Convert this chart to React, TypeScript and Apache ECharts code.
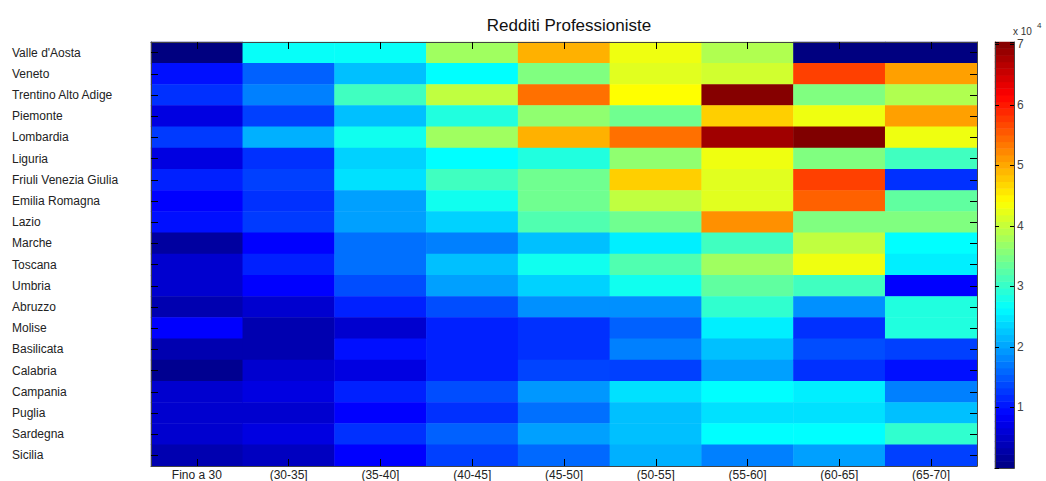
import { useEffect, useRef } from 'react';
import * as echarts from 'echarts';

// Regions, top to bottom
const regions = [
  "Valle d'Aosta", 'Veneto', 'Trentino Alto Adige', 'Piemonte', 'Lombardia',
  'Liguria', 'Friuli Venezia Giulia', 'Emilia Romagna', 'Lazio', 'Marche',
  'Toscana', 'Umbria', 'Abruzzo', 'Molise', 'Basilicata',
  'Calabria', 'Campania', 'Puglia', 'Sardegna', 'Sicilia',
];

// Age bands, left to right
const ageBands = [
  'Fino a 30', '(30-35]', '(35-40]', '(40-45]', '(45-50]',
  '(50-55]', '(55-60]', '(60-65]', '(65-70]',
];

// Average income (EUR) per age band, one value per region in the order above
const upTo30 = [0, 9850, 12100, 6700, 12800, 6700, 11000, 8800, 9850, 2200, 5500, 5500, 3300, 8800, 3300, 1100, 5500, 5500, 5500, 3300];
const age30to35 = [26800, 15500, 17600, 13200, 20900, 12100, 13200, 12100, 12800, 8800, 11000, 8800, 5500, 3300, 3300, 5500, 6700, 5500, 6700, 4400];
const age35to40 = [26800, 22000, 30800, 22000, 27500, 23300, 24300, 19800, 19800, 16500, 16500, 14100, 11000, 5500, 9850, 6700, 11000, 8800, 12100, 8800];
const age40to45 = [37400, 26400, 39600, 28600, 37400, 26400, 30800, 27500, 23300, 17600, 22000, 19800, 14100, 11000, 11000, 11000, 14100, 12100, 15500, 13200];
const age45to50 = [49400, 35200, 53900, 36300, 49400, 28600, 34100, 34100, 31900, 22000, 27500, 23300, 18700, 12100, 12100, 13500, 19200, 16500, 19800, 16000];
const age50to55 = [42900, 41900, 44000, 34100, 53900, 36300, 47300, 39600, 34100, 25300, 31900, 27500, 18700, 15500, 17600, 13200, 24300, 22000, 22000, 20900];
const age55to60 = [38500, 40800, 70000, 47300, 68200, 42900, 41900, 41900, 51700, 30800, 37400, 33000, 29700, 25300, 22000, 19800, 26400, 24300, 26400, 17600];
const age60to65 = [0, 57200, 35200, 42900, 70400, 35200, 57200, 54900, 35200, 39600, 42900, 30800, 18700, 12100, 14100, 12100, 25300, 24300, 26400, 19800];
const age65to70 = [0, 50600, 38500, 50600, 42900, 30800, 12100, 33000, 35200, 26400, 25300, 8800, 28600, 28600, 13200, 9850, 17600, 22000, 29700, 13200];

const bandValues = [upTo30, age30to35, age35to40, age40to45, age45to50, age50to55, age55to60, age60to65, age65to70];

// Colour scale
const colorMin = 0;
const colorMax = 70400;
const colorbarTicks = 10000;
const colorbarSteps = 64;
const jet = ['#000080', '#0000ff', '#0080ff', '#00ffff', '#80ff80', '#ffff00', '#ff8000', '#ff0000', '#800000'];

const FONT = '"Liberation Sans", Arial, Helvetica, sans-serif';

export default function App() {
  const ref = useRef<HTMLDivElement>(null);

  useEffect(() => {
    if (!ref.current) return;
    const chart = echarts.init(ref.current, undefined, { renderer: 'svg' });

    const cells: [number, number, number][] = [];
    bandValues.forEach((col, j) => col.forEach((v, i) => cells.push([j, i, v])));

    const barBins = Array.from({ length: colorbarSteps }, (_, k) => String(k));
    const barCells = barBins.map((_, k) => [0, k, ((k + 0.5) / colorbarSteps) * colorMax]);

    const tickStyle = { color: '#000', width: 1 };
    const lineStyle = { color: '#444', width: 1 };

    chart.setOption({
      animation: false,
      backgroundColor: '#ffffff',
      title: {
        text: 'Redditi Professioniste',
        left: 564,
        top: 12,
        textAlign: 'center',
        textStyle: { fontSize: 17, fontWeight: 'normal', fontFamily: FONT, color: '#111' },
      },
      grid: [
        { left: 151, top: 42, width: 826, height: 426 },
        { left: 995, top: 42, width: 19, height: 426 },
      ],
      xAxis: [
        {
          type: 'category', gridIndex: 0, data: ageBands, position: 'bottom', z: 10,
          axisLine: { show: true, lineStyle },
          axisTick: { show: true, inside: true, alignWithLabel: true, length: 7, lineStyle: tickStyle },
          axisLabel: { margin: 3, fontSize: 12, fontFamily: FONT, color: '#222' },
          splitLine: { show: false },
        },
        {
          type: 'category', gridIndex: 0, data: ageBands, position: 'top', z: 10,
          axisLine: { show: true, lineStyle },
          axisTick: { show: true, inside: true, alignWithLabel: true, length: 7, lineStyle: tickStyle },
          axisLabel: { show: false },
          splitLine: { show: false },
        },
        {
          type: 'category', gridIndex: 1, data: [''], position: 'bottom', z: 10,
          axisLine: { show: true, lineStyle },
          axisTick: { show: false }, axisLabel: { show: false }, splitLine: { show: false },
        },
        {
          type: 'category', gridIndex: 1, data: [''], position: 'top', z: 10,
          axisLine: { show: true, lineStyle },
          axisTick: { show: false }, axisLabel: { show: false }, splitLine: { show: false },
        },
      ],
      yAxis: [
        {
          type: 'category', gridIndex: 0, data: regions, inverse: true, position: 'left', z: 10,
          axisLine: { show: true, lineStyle },
          axisTick: { show: true, inside: true, alignWithLabel: true, length: 7, lineStyle: tickStyle },
          axisLabel: { align: 'left', margin: 139, fontSize: 12, fontFamily: FONT, color: '#222' },
          splitLine: { show: false },
        },
        {
          type: 'category', gridIndex: 0, data: regions, inverse: true, position: 'right', z: 10,
          axisLine: { show: true, lineStyle },
          axisTick: { show: true, inside: true, alignWithLabel: true, length: 7, lineStyle: tickStyle },
          axisLabel: { show: false },
          splitLine: { show: false },
        },
        {
          type: 'category', gridIndex: 1, data: barBins, show: false,
        },
        {
          type: 'value', gridIndex: 1, position: 'right', min: colorMin, max: colorMax, interval: colorbarTicks, z: 10,
          axisLine: { show: true, lineStyle },
          axisTick: { show: true, inside: true, length: 4, lineStyle: tickStyle },
          axisLabel: {
            margin: 3, fontSize: 12, fontFamily: FONT, color: '#444', showMinLabel: false,
            formatter: (v: number) => (v > 0 && v % colorbarTicks === 0 ? String(v / colorbarTicks) : ''),
          },
          splitLine: { show: false },
        },
        {
          type: 'value', gridIndex: 1, position: 'left', min: colorMin, max: colorMax, interval: colorbarTicks, z: 10,
          axisLine: { show: true, lineStyle },
          axisTick: { show: true, inside: true, length: 4, lineStyle: tickStyle },
          axisLabel: { show: false },
          splitLine: { show: false },
        },
      ],
      visualMap: {
        type: 'continuous',
        show: false,
        min: colorMin,
        max: colorMax,
        dimension: 2,
        seriesIndex: [0, 1],
        inRange: { color: jet },
      },
      series: [
        {
          type: 'heatmap', xAxisIndex: 0, yAxisIndex: 0, data: cells,
          itemStyle: { borderWidth: 0 },
          emphasis: { disabled: true },
        },
        {
          type: 'heatmap', xAxisIndex: 2, yAxisIndex: 2, data: barCells,
          itemStyle: { borderWidth: 0 },
          emphasis: { disabled: true },
        },
      ],
      graphic: [
        {
          type: 'text', x: 1013, y: 26, z: 20,
          style: { text: 'x 10', font: `10px ${FONT}`, fill: '#333', verticalAlign: 'top' },
        },
        {
          type: 'text', x: 1037, y: 21, z: 20,
          style: { text: '4', font: `8px ${FONT}`, fill: '#333', verticalAlign: 'top' },
        },
      ],
    });

    return () => chart.dispose();
  }, []);

  return (
    <div
      ref={ref}
      style={{ position: 'fixed', left: 0, top: 0, width: 1046, height: 481, background: '#fff' }}
    />
  );
}
